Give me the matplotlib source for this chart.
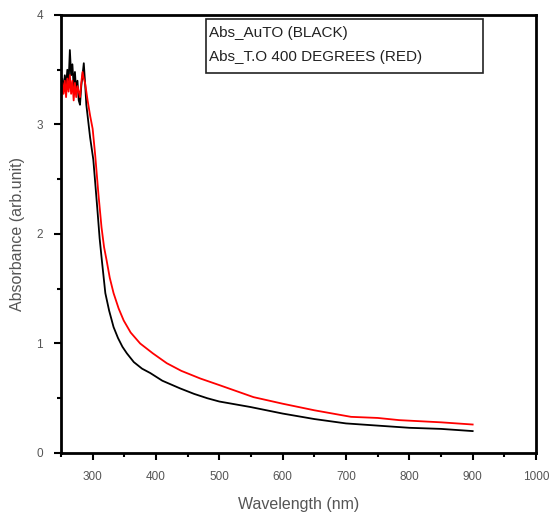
import matplotlib
matplotlib.use("Agg")
import matplotlib.pyplot as plt
from matplotlib.ticker import MultipleLocator
from matplotlib.patches import Rectangle

plt.rcParams['font.family'] = ['Liberation Sans', 'DejaVu Sans']

# wavelength (nm) and absorbance
wl_black = [250, 252, 254, 256, 258, 260, 262, 264, 266, 268, 270, 272, 274, 276, 278,
            280, 282, 284, 286, 288, 290, 292, 294, 296, 298, 301, 304, 307.5, 311, 314.5,
            320, 326, 333, 340, 347, 354, 365, 378, 391, 410, 438, 460, 481, 500, 549,
            600, 650, 700, 750, 800, 850, 900]
abs_black = [3.25, 3.42, 3.30, 3.45, 3.35, 3.50, 3.38, 3.68, 3.45, 3.55, 3.35, 3.48, 3.30, 3.40, 3.22,
             3.18, 3.35, 3.45, 3.56, 3.38, 3.18, 3.08, 2.98, 2.88, 2.80, 2.68, 2.47, 2.22, 1.96, 1.76,
             1.46, 1.30, 1.15, 1.05, 0.97, 0.91, 0.83, 0.77, 0.73, 0.66, 0.59, 0.54, 0.50, 0.47, 0.42,
             0.36, 0.31, 0.27, 0.25, 0.23, 0.22, 0.20]

wl_red = [250, 252, 254, 256, 258, 260, 262, 264, 266, 268, 270, 272, 274, 276, 278,
          280, 282, 284, 286, 288, 290, 292, 294, 296, 298, 300, 304, 309, 314, 318,
          322, 327, 333, 341, 349, 360, 375, 395, 417, 440, 470, 500, 554, 600, 650,
          708, 750, 784, 850, 900]
abs_red = [3.22, 3.38, 3.28, 3.40, 3.25, 3.42, 3.30, 3.45, 3.28, 3.40, 3.22, 3.38, 3.25, 3.35, 3.30,
           3.25, 3.38, 3.48, 3.42, 3.38, 3.30, 3.22, 3.15, 3.08, 3.02, 2.96, 2.72, 2.37, 2.06, 1.88,
           1.76, 1.60, 1.46, 1.32, 1.21, 1.10, 1.00, 0.91, 0.82, 0.75, 0.68, 0.62, 0.51, 0.45, 0.39,
           0.33, 0.32, 0.30, 0.28, 0.26]

legend_lines = ['Abs_AuTO (BLACK)', 'Abs_T.O 400 DEGREES (RED)']

fig = plt.figure(figsize=(5.52, 5.19), dpi=100)
ax = fig.add_axes([0.1105, 0.1272, 0.8605, 0.8439])

ax.plot(wl_black, abs_black, color='black', lw=1.3)
ax.plot(wl_red, abs_red, color='#ff0000', lw=1.3)

ax.set_xlim(250, 1000)
ax.set_ylim(0, 4)
ax.xaxis.set_major_locator(MultipleLocator(100))
ax.xaxis.set_minor_locator(MultipleLocator(50))
ax.yaxis.set_major_locator(MultipleLocator(1))
ax.yaxis.set_minor_locator(MultipleLocator(0.5))

for s in ax.spines.values():
    s.set_linewidth(2)
ax.tick_params(which='both', direction='out', width=1.5, top=False, right=False,
               labelsize=8.5, labelcolor='#555555', pad=8)
ax.tick_params(which='major', length=5)
ax.tick_params(which='minor', length=3)

ax.set_xlabel('Wavelength (nm)', fontsize=11.5, color='#555555', labelpad=10)
ax.set_ylabel('Absorbance (arb.unit)', fontsize=11.5, color='#555555', labelpad=8)

# legend box
ax.add_patch(Rectangle((0.305, 0.868), 0.583, 0.123, transform=ax.transAxes,
                       fill=False, lw=1.2, ec='#222222'))
ax.text(0.311, 0.958, legend_lines[0], transform=ax.transAxes, fontsize=11,
        va='center', ha='left', color='#222222')
ax.text(0.311, 0.903, legend_lines[1], transform=ax.transAxes, fontsize=11,
        va='center', ha='left', color='#222222')

fig.savefig('out.png', dpi=100)
